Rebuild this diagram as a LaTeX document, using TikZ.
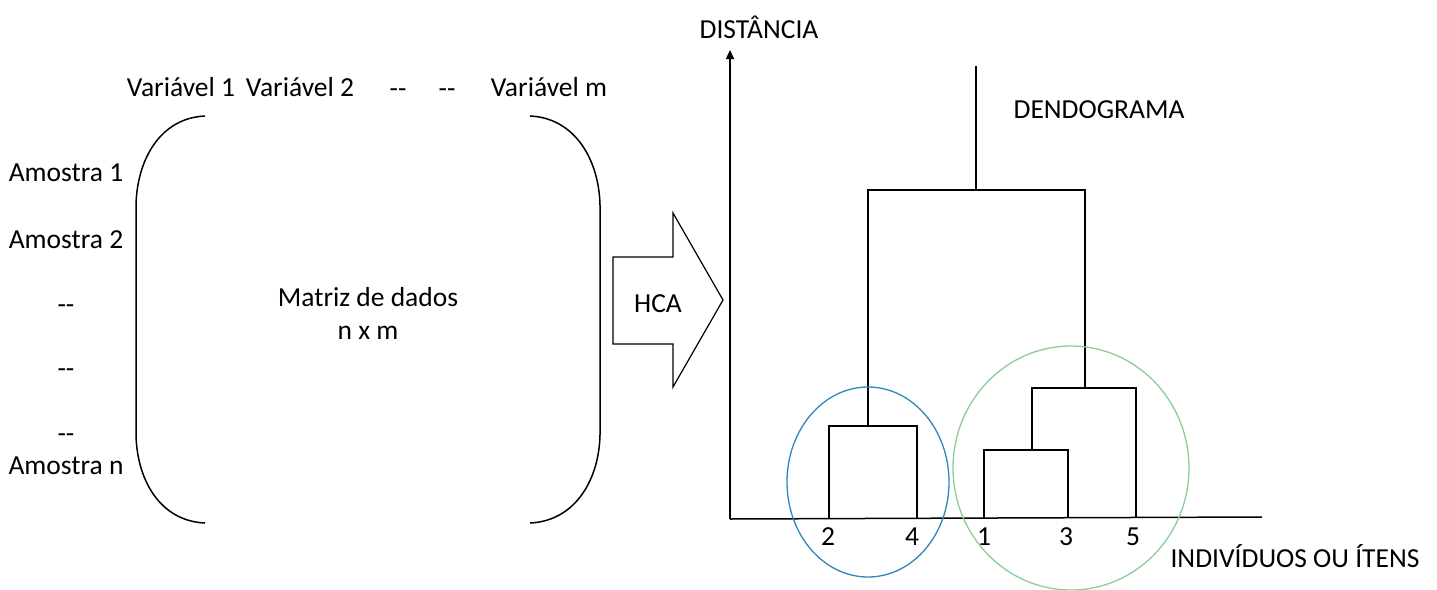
\documentclass[tikz,border=0pt]{standalone}
\usepackage{fontspec}
\setmainfont{Carlito}
\usetikzlibrary{arrows.meta}
\definecolor{clblue}{RGB}{46,134,186}
\definecolor{clgreen}{RGB}{140,205,150}
\newcommand{\dd}{\strut{-}{-}}
\begin{document}
\begin{tikzpicture}[x=1pt,y=-1pt,
  lbl/.style={inner sep=0pt,font=\fontsize{27.5}{32}\selectfont},
  ln/.style={line width=1.5pt,black},
  thin/.style={line width=1.2pt,black}]
\useasboundingbox (0,0) rectangle (1437,589);
% header
\node[lbl] (v1) at (181,87) {Variável 1};
\node[lbl] (v2) at (300,87) {Variável 2};
\node[lbl] (vd1) at (398,91) {\dd};
\node[lbl] (vd2) at (447,91) {\dd};
\node[lbl] (vm) at (549,87) {Variável m};
% rows
\node[lbl] (a1) at (66,173) {Amostra 1};
\node[lbl] (a2) at (66,240) {Amostra 2};
\node[lbl] (d1) at (66,307) {\dd};
\node[lbl] (d2) at (66,371) {\dd};
\node[lbl] (d3) at (66,436) {\dd};
\node[lbl] (an) at (66,466) {Amostra n};
% brackets
\draw[ln] (205,116) .. controls (160,118) and (137,160) .. (136,205) -- (136,435) .. controls (137,480) and (160,521) .. (205,523);
\draw[ln] (530,116) .. controls (575,118) and (599,160) .. (600,205) -- (600,435) .. controls (599,480) and (575,521) .. (530,523);
\node[lbl,align=center] (mat) at (368,313) {Matriz de dados\\[1pt]n x m};
% HCA arrow
\draw[thin] (613,257) -- (673,257) -- (673,213) -- (723,300) -- (673,387) -- (673,344) -- (613,344) -- cycle;
\node[lbl] (hca) at (658,304) {HCA};
% axes
\coordinate (o) at (730,519);
\coordinate (ytop) at (730,50);
\coordinate (xend) at (1262,517);
\draw[ln,-{Triangle[length=9pt,width=8pt]}] (o) -- (ytop);
\draw[ln] (o) -- (xend);
\node[lbl] (dist) at (759,27) {DISTÂNCIA};
\node[lbl] (dend) at (1099,110) {DENDOGRAMA};
\node[lbl] (ind) at (1295,556) {INDIVÍDUOS OU ÍTENS};
% dendrogram
\draw[thin] (829,518) -- (829,426) -- (917,426) -- (917,518);
\draw[thin] (984,518) -- (984,450) -- (1068,450) -- (1068,518);
\draw[thin] (1032,450) -- (1032,388) -- (1136,388) -- (1136,518);
\draw[thin] (868,426) -- (868,190) -- (1085,190) -- (1085,388);
\draw[thin] (976,190) -- (976,66);
% leaves
\node[lbl] (l2) at (828,537) {2};
\node[lbl] (l4) at (912,537) {4};
\node[lbl] (l1) at (984,537) {1};
\node[lbl] (l3) at (1066,537) {3};
\node[lbl] (l5) at (1133,537) {5};
% clusters
\draw[clblue,line width=1.3pt] (868,482) ellipse [x radius=81, y radius=95];
\draw[clgreen,line width=1.3pt] (1071,468) ellipse [x radius=118, y radius=122];
\end{tikzpicture}
\end{document}
